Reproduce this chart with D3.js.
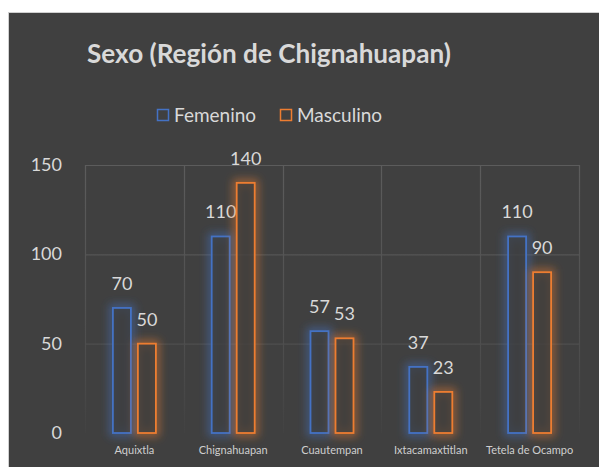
<!DOCTYPE html>
<html lang="es">
<head>
<meta charset="utf-8">
<title>Sexo (Región de Chignahuapan)</title>
<script src="https://cdn.jsdelivr.net/npm/d3@7"></script>
<style>
	body { margin: 0; background: #ffffff; }
	svg { display: block; }
	text { font-family: Lato, "Open Sans", sans-serif; fill: #d9d9d9; }
</style>
</head>
<body>
<svg id="chart" width="599" height="467"></svg>
<script>
// data
var municipios = ["Aquixtla", "Chignahuapan", "Cuautempan", "Ixtacamaxtitlan", "Tetela de Ocampo"]
var femenino = [70, 110, 57, 37, 110]
var masculino = [50, 140, 53, 23, 90]
var series = ["Femenino", "Masculino"]
var colores = ["#4472c4", "#ed7d31"]
var yTicks = [0, 50, 100, 150]

var svg = d3.select("#chart")
var W = 599, H = 467
var plot = {left: 85, right: 579, top: 165, bottom: 433}

// chart frame
svg.append("rect").attr("x", 8.5).attr("y", 12.5).attr("width", W).attr("height", H)
	.attr("fill", "#404040").attr("stroke", "#d0d0d0").attr("stroke-width", 1)

var defs = svg.append("defs")
var f = defs.append("filter").attr("id", "glow")
	.attr("x", "-80%").attr("y", "-30%").attr("width", "260%").attr("height", "160%")
f.append("feGaussianBlur").attr("in", "SourceGraphic").attr("stdDeviation", 4)

var grad = defs.append("linearGradient").attr("id", "gridFade")
	.attr("gradientUnits", "userSpaceOnUse")
	.attr("x1", 0).attr("y1", plot.top).attr("x2", 0).attr("y2", plot.bottom)
grad.append("stop").attr("offset", 0).attr("stop-color", "#5c5c5c")
grad.append("stop").attr("offset", 0.7).attr("stop-color", "#4d4d4d")
grad.append("stop").attr("offset", 1).attr("stop-color", "#424242")

var x = d3.scaleBand().domain(municipios).range([plot.left, plot.right]).paddingInner(0).paddingOuter(0)
var y = d3.scaleLinear().domain([0, 150]).range([plot.bottom, plot.top])

// title
var title = svg.append("text").attr("x", 269).attr("y", 63).attr("text-anchor", "middle")
	.style("font-size", "28px").style("font-weight", "bold").text("Sexo (Región de Chignahuapan)")
var tw = title.node().getComputedTextLength()
title.style("font-size", (28 * 364 / tw).toFixed(2) + "px")

// legend
var legX = [157, 280]
series.forEach(function(s, i) {
	svg.append("rect").attr("x", legX[i] + 0.5).attr("y", 109.5).attr("width", 11).attr("height", 11)
		.attr("fill", "none").attr("stroke", colores[i]).attr("stroke-width", 1.5)
	svg.append("text").attr("x", legX[i] + 17).attr("y", 122)
		.style("font-size", "19px").text(s)
})

// gridlines
var grid = svg.append("g")
grid.selectAll(".hg").data(yTicks.filter(function(d) { return d > 0 })).enter().append("line")
	.attr("x1", plot.left).attr("x2", plot.right)
	.attr("y1", function(d) { return y(d) + 0.5 }).attr("y2", function(d) { return y(d) + 0.5 })
	.attr("stroke", "url(#gridFade)").attr("stroke-width", 1.2)
var bounds = municipios.map(function(m) { return x(m) }).concat([plot.right])
grid.selectAll(".vg").data(bounds).enter().append("line")
	.attr("x1", function(d) { return Math.round(d) + 0.5 }).attr("x2", function(d) { return Math.round(d) + 0.5 })
	.attr("y1", plot.top).attr("y2", plot.bottom)
	.attr("stroke", "url(#gridFade)").attr("stroke-width", 1.2)

// y axis labels
svg.append("g").selectAll("text").data(yTicks).enter().append("text")
	.attr("x", 62).attr("y", function(d) { return y(d) + 6 })
	.attr("text-anchor", "end").style("font-size", "18px").text(function(d) { return d })

// x axis labels
svg.append("g").selectAll("text").data(municipios).enter().append("text")
	.attr("x", function(d) { return x(d) + x.bandwidth() / 2 }).attr("y", 454)
	.attr("text-anchor", "middle").style("font-size", "11px").style("fill", "#cfcfcf").text(function(d) { return d })

// bars
var barW = 18, offs = [-12.5, 12.5]
var valores = [femenino, masculino]
function barX(d, i, s) { return x(municipios[i]) + x.bandwidth() / 2 + offs[s] - barW / 2 }
valores.forEach(function(vals, s) {
	var g = svg.append("g")
	// soft glow behind the outline
	g.selectAll(".halo").data(vals).enter().append("rect")
		.attr("x", function(d, i) { return barX(d, i, s) })
		.attr("y", function(d) { return y(d) })
		.attr("width", barW)
		.attr("height", function(d) { return y(0) - y(d) })
		.attr("fill", "none").attr("stroke", colores[s]).attr("stroke-width", 7)
		.attr("stroke-opacity", 0.55).attr("filter", "url(#glow)")
	g.selectAll(".bar").data(vals).enter().append("rect")
		.attr("x", function(d, i) { return barX(d, i, s) })
		.attr("y", function(d) { return y(d) })
		.attr("width", barW)
		.attr("height", function(d) { return y(0) - y(d) })
		.attr("fill", "#3d3d3d").attr("fill-opacity", 0.75)
		.attr("stroke", colores[s]).attr("stroke-width", 1.8)
	g.selectAll("text").data(vals).enter().append("text")
		.attr("x", function(d, i) { return x(municipios[i]) + x.bandwidth() / 2 + offs[s] })
		.attr("y", function(d) { return y(d) - 18 })
		.attr("text-anchor", "middle").style("font-size", "18px").text(function(d) { return d })
})
</script>
</body>
</html>
